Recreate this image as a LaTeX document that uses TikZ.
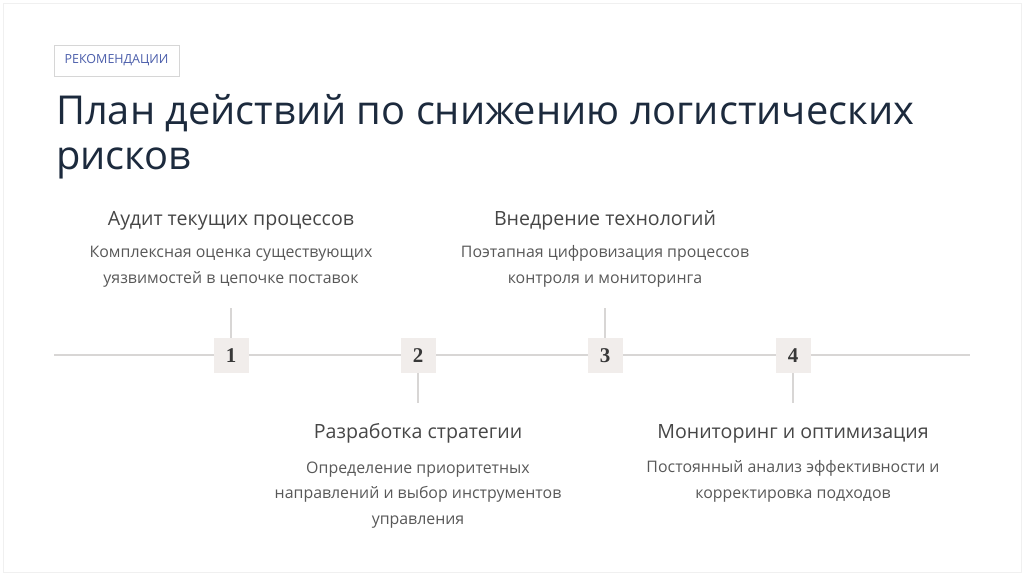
\documentclass[tikz,border=0pt]{standalone}
\usepackage{fontspec}
\setmainfont{Open Sans}
\newfontfamily\numfont{Liberation Serif}
\usetikzlibrary{positioning}
\definecolor{ink}{HTML}{1C2A3D}
\definecolor{tagblue}{HTML}{4A5DAA}
\definecolor{rulec}{HTML}{D8D6D5}
\definecolor{boxfill}{HTML}{F1EDEB}
\definecolor{headc}{HTML}{464646}
\definecolor{descc}{HTML}{585858}
\tikzset{num/.style={fill=boxfill,minimum size=35pt,inner sep=0pt,font=\numfont\fontsize{21}{21}\selectfont\bfseries,text=black!78},
hd/.style={anchor=base,font=\fontsize{19.6}{23}\selectfont,text=headc},
ds/.style={anchor=base,align=center,font=\fontsize{15.9}{25.5}\selectfont,text=descc},
tl/.style={rulec,line width=1.6pt}}

\begin{document}
\begin{tikzpicture}[x=1pt,y=-1pt]
\useasboundingbox(0,0)rectangle(1024,575);
\draw[black!6](3,3)rectangle(1021,572);
% header
\node[draw=black!16,minimum width=125pt,minimum height=31pt,inner sep=0pt,text=tagblue,font=\fontsize{12.5}{12.5}\selectfont](tag)at(116.5,60.5){РЕКОМЕНДАЦИИ};
% base of a two-line node sits on its last line
\node[anchor=base west,align=left,inner sep=0pt,text=ink,font=\fontsize{39.8}{45}\selectfont](title)at(56,169){План действий по снижению логистических\\рисков};
% timeline
\coordinate(ls)at(54,355);\coordinate(le)at(970,355);\draw[tl](ls)--(le);
\node[num](n1)at(231,355.5){1};\node[num](n2)at(418,355.5){2};
\node[num](n3)at(605,355.5){3};\node[num](n4)at(793,355.5){4};
\coordinate(t1)at(231,308);\coordinate(t2)at(418,403);\coordinate(t3)at(605,308);\coordinate(t4)at(793,403);
\draw[tl](n1.north)--(t1);\draw[tl](n2.south)--(t2);\draw[tl](n3.north)--(t3);\draw[tl](n4.south)--(t4);
% steps
\node[hd](h1)at(231,225){Аудит текущих процессов};
\node[ds](d1)at(231,283){Комплексная оценка существующих\\уязвимостей в цепочке поставок};
\node[hd](h3)at(605,225){Внедрение технологий};
\node[ds](d3)at(605,283){Поэтапная цифровизация процессов\\контроля и мониторинга};
\node[hd](h2)at(418,438){Разработка стратегии};
\node[ds](d2)at(418,524){Определение приоритетных\\направлений и выбор инструментов\\управления};
\node[hd](h4)at(793,438){Мониторинг и оптимизация};
\node[ds](d4)at(793,498){Постоянный анализ эффективности и\\корректировка подходов};
\end{tikzpicture}
\end{document}
